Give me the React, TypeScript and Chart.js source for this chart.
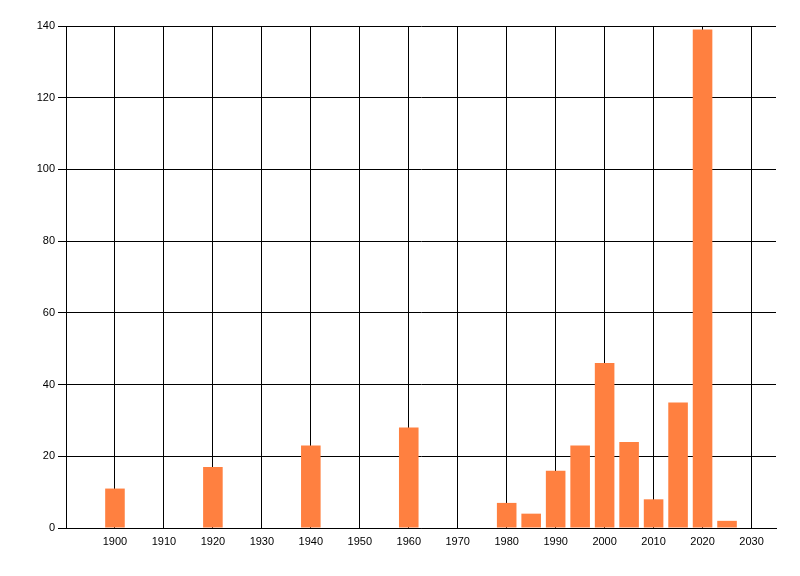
import React, { useEffect, useRef } from "react";
import { Chart, registerables } from "chart.js";

Chart.register(...registerables);

const years = [1900, 1920, 1940, 1960, 1980, 1985, 1990, 1995, 2000, 2005, 2010, 2015, 2020, 2025];
const counts = [11, 17, 23, 28, 7, 4, 16, 23, 46, 24, 8, 35, 139, 2];
const xTickValues = [1900, 1910, 1920, 1930, 1940, 1950, 1960, 1970, 1980, 1990, 2000, 2010, 2020, 2030];
const yTickValues = [0, 20, 40, 60, 80, 100, 120, 140];

export default function App() {
  const ref = useRef<HTMLCanvasElement | null>(null);

  useEffect(() => {
    document.body.style.margin = "0";
    const canvas = ref.current;
    if (!canvas) return;
    const chart = new Chart(canvas, {
      type: "bar",
      data: {
        datasets: [
          {
            data: years.map((y, i) => ({ x: y, y: counts[i] })),
            backgroundColor: "#FF8040",
            borderWidth: 0,
            barPercentage: 0.8,
            categoryPercentage: 1.0,
          },
        ],
      },
      options: {
        animation: false,
        responsive: false,
        maintainAspectRatio: false,
        devicePixelRatio: 1,
        layout: { padding: { left: 0, right: 24, top: 26, bottom: 0 } },
        plugins: { legend: { display: false }, tooltip: { enabled: false } },
        scales: {
          x: {
            type: "linear",
            min: 1890,
            max: 2035,
            offset: false,
            afterBuildTicks: (axis: any) => {
              axis.ticks = xTickValues.map((v) => ({ value: v }));
            },
            afterFit: (axis: any) => {
              axis.height = 48;
            },
            grid: { color: "#000", lineWidth: 1, drawTicks: false, tickLength: 0, offset: false },
            border: { color: "#000", width: 1 },
            ticks: {
              color: "#000",
              font: { family: "Liberation Sans", size: 11 },
              padding: 7,
              maxRotation: 0,
              autoSkip: false,
              callback: (v: any) => String(v),
            },
          },
          y: {
            type: "linear",
            min: 0,
            max: 140,
            afterBuildTicks: (axis: any) => {
              axis.ticks = yTickValues.map((v) => ({ value: v }));
            },
            afterFit: (axis: any) => {
              axis.width = 66;
            },
            grid: { color: "#000", lineWidth: 1, drawTicks: true, tickLength: 8 },
            border: { color: "#000", width: 1 },
            ticks: {
              color: "#000",
              font: { family: "Liberation Sans", size: 11 },
              padding: 3,
              autoSkip: false,
            },
          },
        },
      },
    });
    return () => chart.destroy();
  }, []);

  return (
    <div style={{ width: 800, height: 576, background: "#fff" }}>
      <canvas ref={ref} width={800} height={576} style={{ display: "block" }} />
    </div>
  );
}
